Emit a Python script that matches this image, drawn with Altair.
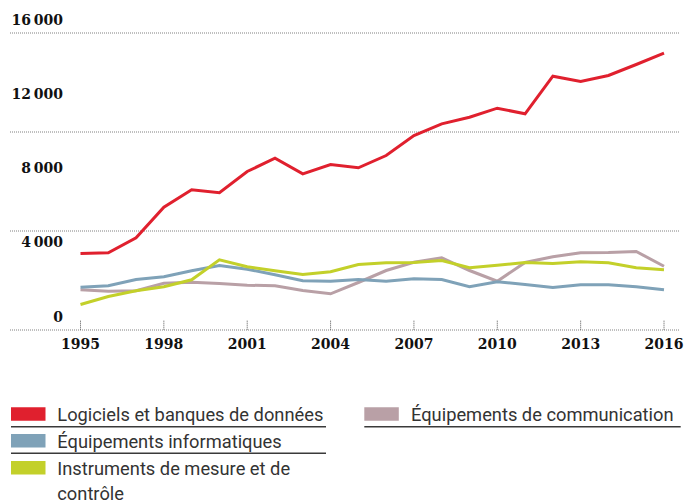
import altair as alt
import pandas as pd

years = list(range(1995, 2017))

logiciels = [4121, 4159, 4967, 6615, 7553, 7391, 8538, 9255, 8414, 8915, 8738,
             9400, 10478, 11108, 11464, 11949, 11647, 13672, 13387, 13710, 14303, 14911]
informatiques = [2306, 2381, 2720, 2866, 3189, 3475, 3275, 2974, 2650, 2629, 2720,
                 2629, 2758, 2720, 2327, 2597, 2451, 2289, 2435, 2435, 2327, 2166]
instruments = [1374, 1805, 2112, 2327, 2704, 3782, 3405, 3189, 2990, 3135, 3528,
               3620, 3636, 3744, 3351, 3491, 3636, 3582, 3674, 3620, 3351, 3243]
communication = [2166, 2090, 2112, 2521, 2575, 2505, 2413, 2381, 2128, 1950, 2559,
                 3205, 3652, 3889, 3205, 2629, 3636, 3943, 4159, 4175, 4229, 3437]

series_names = ["Logiciels et banques de données", "Équipements informatiques",
                "Instruments de mesure et de contrôle", "Équipements de communication"]
series_colors = ["#E0202E", "#7FA2B8", "#C3D02A", "#B9A0A6"]

ytick_values = [0, 4000, 8000, 12000, 16000]
ytick_labels = ["0", "4\u202f000", "8\u202f000", "12\u202f000", "16\u202f000"]
xtick_years = [1995, 1998, 2001, 2004, 2007, 2010, 2013, 2016]
xtick_labels = [str(y) for y in xtick_years]

YMAX = 16000
grid_values = [0, YMAX / 3, 2 * YMAX / 3, YMAX]

xscale = alt.Scale(domain=[1995, 2016], range=[70.5, 654])
yscale = alt.Scale(domain=[0, YMAX], nice=False, zero=True)

SERIF = "DejaVu Serif"
SANS = "Roboto"
TXT = "#333333"

layers = []

# dotted grid lines
layers.append(
    alt.Chart(pd.DataFrame({"g": grid_values}))
    .mark_rule(strokeDash=[1, 1], color="#808080", strokeWidth=1)
    .encode(y=alt.Y("g:Q", scale=yscale, axis=None), x=alt.value(0), x2=alt.value(670))
)

# lines, draw order: communication, informatiques, instruments, logiciels
order = [3, 1, 2, 0]
all_vals = [logiciels, informatiques, instruments, communication]
for idx in order:
    d = pd.DataFrame({"year": years, "value": all_vals[idx], "serie": series_names[idx]})
    layers.append(
        alt.Chart(d).mark_line(color=series_colors[idx], strokeWidth=3, strokeJoin="miter")
        .encode(x=alt.X("year:Q", scale=xscale, axis=None),
                y=alt.Y("value:Q", scale=yscale, axis=None))
    )

# y tick labels
ylab = pd.DataFrame({"v": ytick_values, "lab": ytick_labels})
layers.append(
    alt.Chart(ylab).mark_text(align="right", baseline="middle", dy=-12.5, font=SERIF,
                              fontWeight="bold", fontSize=14, color="#111111")
    .encode(x=alt.value(53), y=alt.Y("v:Q", scale=yscale, axis=None), text="lab:N")
)

# x ticks
xt = pd.DataFrame({"year": xtick_years, "lab": xtick_labels})
layers.append(
    alt.Chart(xt).mark_rule(strokeDash=[1, 1], color="#555555", strokeWidth=1)
    .encode(x=alt.X("year:Q", scale=xscale, axis=None), y=alt.value(287.7), y2=alt.value(297))
)
layers.append(
    alt.Chart(xt).mark_text(align="center", baseline="middle", font=SERIF, fontWeight="bold",
                            fontSize=14, color="#111111")
    .encode(x=alt.X("year:Q", scale=xscale, axis=None), y=alt.value(312), text="lab:N")
)

# legend (manual, plot coordinates)
legend_items = [
    (0, 1, 374.3, 47.3, [388]),
    (1, 1, 401.0, 47.3, [415]),
    (2, 1, 428.0, 47.3, [442, 467]),
    (3, 354.3, 374.3, 401, [388]),
]
legend_lines = {2: ["Instruments de mesure et de", "contrôle"]}
one = pd.DataFrame({"a": [0]})
for idx, sx, sy, tx, bases in legend_items:
    layers.append(
        alt.Chart(one).mark_rect(color=series_colors[idx])
        .encode(x=alt.value(sx), x2=alt.value(sx + 34.5), y=alt.value(sy), y2=alt.value(sy + 13.4))
    )
    lines = legend_lines.get(idx, [series_names[idx]])
    for line, b in zip(lines, bases):
        layers.append(
            alt.Chart(pd.DataFrame({"t": [line]}))
            .mark_text(align="left", baseline="alphabetic", font=SANS, fontSize=18.3, color=TXT)
            .encode(x=alt.value(tx), y=alt.value(b), text="t:N")
        )

underlines = [(1, 316, 393.7), (1, 316, 420.3), (354.3, 670.7, 393.7)]
for x1, x2, yy in underlines:
    layers.append(
        alt.Chart(one).mark_rule(color="#3a3a3a", strokeWidth=1.5)
        .encode(x=alt.value(x1), x2=alt.value(x2), y=alt.value(yy))
    )

chart = alt.layer(*layers).properties(
    width=670, height=297,
    autosize=alt.AutoSizeParams(type="none"),
    padding={"left": 10, "top": 33, "right": 13, "bottom": 174},
).configure(background="white").configure_view(stroke=None)

chart.save("out.html", embed_options={"renderer": "svg", "actions": False})
